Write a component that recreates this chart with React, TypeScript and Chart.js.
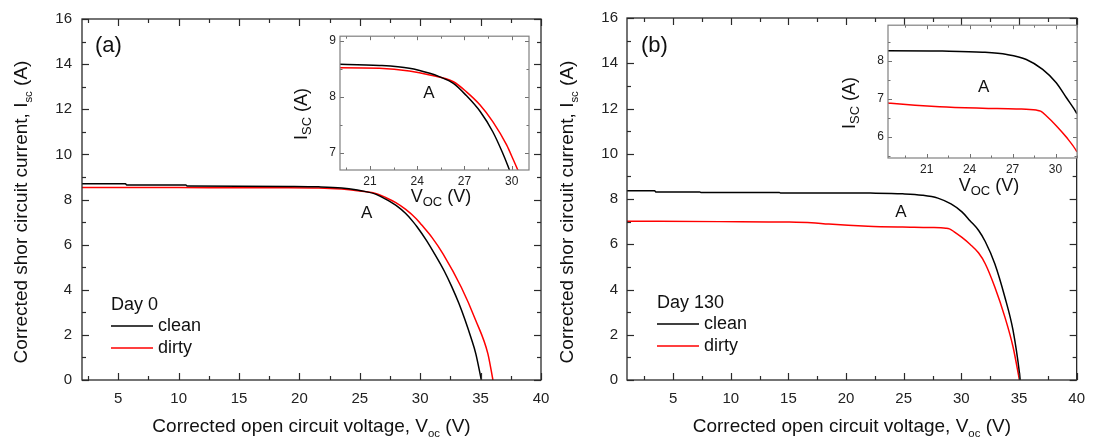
import React, { useEffect, useRef } from "react";
import { Chart, registerables } from "chart.js";

const FONT = 'Arial, "Liberation Sans", Helvetica, sans-serif';

// ---------- Panel (a): Day 0 ----------
const cleanDay0V = [2, 5.6, 5.7, 10.6, 10.7, 15, 19.1, 21.6, 23.5, 24.8, 25.4, 26.3, 27.1, 28.0, 28.8, 29.4, 29.75, 30.5, 31.2, 32.0, 32.6, 33.2, 33.7, 34.2, 34.6, 35.06];
const cleanDay0I = [8.7, 8.7, 8.64, 8.64, 8.6, 8.59, 8.58, 8.56, 8.51, 8.42, 8.36, 8.24, 8.03, 7.74, 7.38, 7.02, 6.78, 6.2, 5.58, 4.82, 4.15, 3.4, 2.68, 1.88, 1.17, 0];
const dirtyDay0V = [2, 10, 15, 19.1, 21.6, 23.5, 24.8, 26.3, 27.13, 27.98, 28.8, 29.67, 30.09, 31.0, 31.9, 33.4, 34.6, 35.6, 36.02];
const dirtyDay0I = [8.53, 8.53, 8.52, 8.52, 8.51, 8.46, 8.39, 8.27, 8.09, 7.86, 7.56, 7.15, 6.89, 6.3, 5.58, 4.11, 2.64, 1.17, 0];

// ---------- Panel (b): Day 130 ----------
const cleanDay130V = [1, 3.4, 3.5, 7.3, 7.4, 14.2, 14.3, 18.3, 22.1, 24.9, 26.6, 27.96, 29.1, 30.05, 30.75, 31.5, 32.07, 32.9, 33.77, 34.48, 35.04, 35.1];
const cleanDay130I = [8.37, 8.37, 8.31, 8.31, 8.29, 8.29, 8.27, 8.27, 8.26, 8.23, 8.17, 8.04, 7.78, 7.43, 7.04, 6.61, 6.12, 5.14, 3.67, 2.2, 0.3, 0];
const dirtyDay130V = [1, 9, 15, 17, 18.5, 21.9, 24.9, 27.26, 28.65, 28.96, 29.35, 30.05, 30.75, 31.5, 32.07, 32.9, 33.77, 34.48, 35.04];
const dirtyDay130I = [7.02, 7.0, 6.98, 6.95, 6.89, 6.8, 6.76, 6.74, 6.71, 6.68, 6.56, 6.3, 6.0, 5.61, 5.14, 4.11, 2.79, 1.47, 0];

// ---------- ticks & labels ----------
const mainXTicks = [5, 10, 15, 20, 25, 30, 35, 40];
const mainYTicks = [0, 2, 4, 6, 8, 10, 12, 14, 16];
const insetXTicks = [21, 24, 27, 30];
const insetYTicksA = [7, 8, 9];
const insetYTicksB = [6, 7, 8];
const seriesLabels = ["clean", "dirty"];
const seriesColors = ["#000000", "#ff0000"];
const dayLabels = ["Day 0", "Day 130"];
const panelTags = ["(a)", "(b)"];
const regionLabel = "A";

type Part = { t: string; sub?: boolean };

function drawRich(ctx: CanvasRenderingContext2D, parts: Part[], ax: number, ay: number, size: number, subScale: number, subDrop: number, rotate: boolean, color: string) {
  ctx.save();
  ctx.translate(ax, ay);
  if (rotate) ctx.rotate(-Math.PI / 2);
  ctx.fillStyle = color;
  ctx.textAlign = "left";
  ctx.textBaseline = "alphabetic";
  let total = 0;
  const widths = parts.map((p) => {
    ctx.font = `${p.sub ? size * subScale : size}px ${FONT}`;
    const w = ctx.measureText(p.t).width;
    total += w;
    return w;
  });
  let x = -total / 2;
  parts.forEach((p, i) => {
    ctx.font = `${p.sub ? size * subScale : size}px ${FONT}`;
    ctx.fillText(p.t, x, p.sub ? subDrop : 0);
    x += widths[i];
  });
  ctx.restore();
}

const decorPlugin = {
  id: "decor",
  beforeDraw(chart: any, _a: any, o: any) {
    if (!o || !o.fillArea) return;
    const { left, top, width, height } = chart.chartArea;
    const ctx = chart.ctx;
    ctx.save();
    ctx.fillStyle = "#ffffff";
    ctx.fillRect(left, top, width, height);
    ctx.restore();
  },
  afterDraw(chart: any, _a: any, o: any) {
    if (!o || !o.frameColor) return;
    const ctx: CanvasRenderingContext2D = chart.ctx;
    const ca = chart.chartArea;
    const xs = chart.scales.x;
    const ys = chart.scales.y;
    ctx.save();
    ctx.lineWidth = o.tickWidth;
    ctx.strokeStyle = o.tickColor;
    const seg = (x1: number, y1: number, x2: number, y2: number) => {
      ctx.beginPath();
      ctx.moveTo(x1, y1);
      ctx.lineTo(x2, y2);
      ctx.stroke();
    };
    const isMajor = (v: number, m: number[]) => m.some((q) => Math.abs(q - v) < 1e-6);
    const each = (min: number, max: number, step: number, fn: (v: number) => void) => {
      const s = Math.ceil(min / step - 1e-9);
      for (let k = s; k * step <= max + 1e-9; k++) fn(+(k * step).toFixed(6));
    };
    each(xs.min, xs.max, o.xMinorStep, (v) => {
      const len = isMajor(v, o.xMajor) ? o.majorLen : o.minorLen;
      const px = Math.round(xs.getPixelForValue(v)) + 0.5;
      seg(px, ca.bottom, px, ca.bottom - len);
      seg(px, ca.top, px, ca.top + len);
    });
    each(ys.min, ys.max, o.yMinorStep, (v) => {
      const len = isMajor(v, o.yMajor) ? o.majorLen : o.minorLen;
      const py = Math.round(ys.getPixelForValue(v)) + 0.5;
      seg(ca.left, py, ca.left + len, py);
      seg(ca.right, py, ca.right - len, py);
    });
    ctx.strokeStyle = o.frameColor;
    ctx.lineWidth = o.frameWidth;
    ctx.strokeRect(ca.left, ca.top, ca.right - ca.left, ca.bottom - ca.top);

    (o.titles || []).forEach((t: any) => {
      const ax = t.x === "center" ? (ca.left + ca.right) / 2 : t.x;
      const ay = t.y === "center" ? (ca.top + ca.bottom) / 2 : t.y;
      drawRich(ctx, t.parts, ax, ay, t.size, t.subScale, t.subDrop, !!t.rotate, "#111");
    });

    (o.labels || []).forEach((l: any) => {
      ctx.font = `${l.size}px ${FONT}`;
      ctx.fillStyle = "#111";
      ctx.textAlign = l.align || "center";
      ctx.textBaseline = "middle";
      const px = l.data ? xs.getPixelForValue(l.x) : l.x;
      const py = l.data ? ys.getPixelForValue(l.y) : l.y;
      ctx.fillText(l.text, px, py);
    });

    const lg = o.legend;
    if (lg) {
      ctx.font = `${lg.size}px ${FONT}`;
      ctx.fillStyle = "#111";
      ctx.textAlign = "left";
      ctx.textBaseline = "alphabetic";
      ctx.fillText(lg.title, lg.x, lg.titleY);
      chart.data.datasets.forEach((ds: any, i: number) => {
        const y = lg.rowsY[i];
        ctx.strokeStyle = ds.borderColor;
        ctx.lineWidth = 1.5;
        seg(lg.x, y, lg.x + lg.lineLen, y);
        ctx.fillStyle = "#111";
        ctx.textBaseline = "middle";
        ctx.fillText(ds.label, lg.x + lg.lineLen + lg.gap, y);
      });
    }
    ctx.restore();
  },
};

Chart.register(...registerables, decorPlugin);

type Spec = {
  cleanV: number[]; cleanI: number[]; dirtyV: number[]; dirtyI: number[];
  xMin: number; xMax: number; yMin: number; yMax: number;
  xTicks: number[]; yTicks: number[];
  padding: any; yWidth: number; xHeight: number;
  tickSize: number; xPad: number; yPad: number;
  decor: any;
};

function buildConfig(s: Spec): any {
  const mk = (V: number[], I: number[], i: number) => ({
    label: seriesLabels[i],
    data: V.map((v, k) => ({ x: v, y: I[k] })),
    borderColor: seriesColors[i],
    backgroundColor: seriesColors[i],
    borderWidth: 1.5,
    pointRadius: 0,
    fill: false,
    cubicInterpolationMode: "monotone",
  });
  return {
    type: "line",
    data: { datasets: [mk(s.cleanV, s.cleanI, 0), mk(s.dirtyV, s.dirtyI, 1)] },
    options: {
      responsive: false,
      animation: false,
      devicePixelRatio: 1,
      events: [],
      layout: { padding: s.padding },
      plugins: { legend: { display: false }, tooltip: { enabled: false }, decor: s.decor },
      scales: {
        x: {
          type: "linear",
          min: s.xMin,
          max: s.xMax,
          grid: { display: false, drawTicks: false },
          border: { display: false },
          afterBuildTicks: (sc: any) => { sc.ticks = s.xTicks.map((v) => ({ value: v })); },
          afterFit: (sc: any) => { sc.height = s.xHeight; },
          ticks: { font: { family: FONT, size: s.tickSize }, color: "#222", padding: s.xPad, maxRotation: 0, autoSkip: false, callback: (v: any) => String(v) },
        },
        y: {
          type: "linear",
          min: s.yMin,
          max: s.yMax,
          grid: { display: false, drawTicks: false },
          border: { display: false },
          afterBuildTicks: (sc: any) => { sc.ticks = s.yTicks.map((v) => ({ value: v })); },
          afterFit: (sc: any) => { sc.width = s.yWidth; },
          ticks: { font: { family: FONT, size: s.tickSize }, color: "#222", padding: s.yPad, autoSkip: false, callback: (v: any) => String(v) },
        },
      },
    },
  };
}

const mainYTitle: Part[] = [{ t: "Corrected shor circuit current, I" }, { t: "sc", sub: true }, { t: " (A)" }];
const mainXTitle: Part[] = [{ t: "Corrected open circuit voltage, V" }, { t: "oc", sub: true }, { t: " (V)" }];
const insetYTitle: Part[] = [{ t: "I" }, { t: "SC", sub: true }, { t: " (A)" }];
const insetXTitle: Part[] = [{ t: "V" }, { t: "OC", sub: true }, { t: " (V)" }];

function mainDecor(tag: string, day: string, yTitleX: number, aX: number, legendX: number, legendYs: number[]) {
  return {
    frameColor: "#2a2a2a", frameWidth: 1.3, tickColor: "#2a2a2a", tickWidth: 1.2,
    majorLen: 7, minorLen: 4, xMinorStep: 2.5, yMinorStep: 1,
    xMajor: mainXTicks, yMajor: mainYTicks, fillArea: false,
    titles: [
      { parts: mainYTitle, x: yTitleX, y: 212, size: 19, subScale: 0.6, subDrop: 5, rotate: true },
      { parts: mainXTitle, x: "center", y: 432, size: 19, subScale: 0.6, subDrop: 5 },
    ],
    labels: [
      { text: tag, x: legendX - 16, y: 46, size: 22, align: "left" },
      { text: regionLabel, x: aX, y: 7.4, size: 17, data: true },
    ],
    legend: { title: day, x: legendX, titleY: legendYs[0], rowsY: [legendYs[1], legendYs[2]], lineLen: 42, gap: 5, size: 18 },
  };
}

function insetDecor(yMajor: number[], aX: number, aY: number, xTitleY: number) {
  return {
    frameColor: "#808080", frameWidth: 1.2, tickColor: "#707070", tickWidth: 1,
    majorLen: 4, minorLen: 2.5, xMinorStep: 1.5, yMinorStep: 0.5,
    xMajor: insetXTicks, yMajor, fillArea: true,
    titles: [
      { parts: insetYTitle, x: 27, y: 89, size: 18, subScale: 0.72, subDrop: 4, rotate: true },
      { parts: insetXTitle, x: 161, y: xTitleY, size: 18, subScale: 0.72, subDrop: 4 },
    ],
    labels: [{ text: regionLabel, x: aX, y: aY, size: 17, data: true }],
  };
}

const specs: { spec: Spec; left: number; top: number; w: number; h: number }[] = [
  {
    left: 0, top: 0, w: 560, h: 438,
    spec: {
      cleanV: cleanDay0V, cleanI: cleanDay0I, dirtyV: dirtyDay0V, dirtyI: dirtyDay0I,
      xMin: 2, xMax: 40, yMin: 0, yMax: 16, xTicks: mainXTicks, yTicks: mainYTicks,
      padding: { top: 17, right: 19, left: 0, bottom: 0 }, yWidth: 82, xHeight: 58,
      tickSize: 15, xPad: 10, yPad: 10,
      decor: mainDecor(panelTags[0], dayLabels[0], 27, 25.57, 111, [310, 326, 348]),
    },
  },
  {
    left: 547, top: 0, w: 548, h: 438,
    spec: {
      cleanV: cleanDay130V, cleanI: cleanDay130I, dirtyV: dirtyDay130V, dirtyI: dirtyDay130I,
      xMin: 1, xMax: 40, yMin: 0, yMax: 16, xTicks: mainXTicks, yTicks: mainYTicks,
      padding: { top: 17, right: 9, left: 0, bottom: 0 }, yWidth: 80, xHeight: 58,
      tickSize: 15, xPad: 10, yPad: 9,
      decor: mainDecor(panelTags[1], dayLabels[1], 26, 24.75, 110, [308, 324, 346]),
    },
  },
  {
    left: 280, top: 25, w: 255, h: 190,
    spec: {
      cleanV: cleanDay0V, cleanI: cleanDay0I, dirtyV: dirtyDay0V, dirtyI: dirtyDay0I,
      xMin: 19.1, xMax: 31.1, yMin: 6.7, yMax: 9.08, xTicks: insetXTicks, yTicks: insetYTicksA,
      padding: { top: 10, right: 6, left: 0, bottom: 0 }, yWidth: 60, xHeight: 45,
      tickSize: 12, xPad: 4, yPad: 4,
      decor: insetDecor(insetYTicksA, 24.74, 8.07, 177),
    },
  },
  {
    left: 828, top: 14, w: 255, h: 190,
    spec: {
      cleanV: cleanDay130V, cleanI: cleanDay130I, dirtyV: dirtyDay130V, dirtyI: dirtyDay130I,
      xMin: 18.3, xMax: 31.5, yMin: 5.45, yMax: 8.94, xTicks: insetXTicks, yTicks: insetYTicksB,
      padding: { top: 10, right: 6, left: 0, bottom: 0 }, yWidth: 60, xHeight: 46,
      tickSize: 12, xPad: 4, yPad: 4,
      decor: insetDecor(insetYTicksB, 24.98, 7.3, 177),
    },
  },
];

function Panel({ spec, left, top, w, h }: { spec: Spec; left: number; top: number; w: number; h: number }) {
  const ref = useRef<HTMLCanvasElement | null>(null);
  useEffect(() => {
    if (!ref.current) return;
    const chart = new Chart(ref.current, buildConfig(spec));
    return () => chart.destroy();
  }, [spec]);
  return <canvas ref={ref} width={w} height={h} style={{ position: "absolute", left, top, width: w, height: h }} />;
}

export default function App() {
  return (
    <div style={{ position: "fixed", left: 0, top: 0, width: 1095, height: 438, background: "#ffffff", overflow: "hidden" }}>
      {specs.map((s, i) => (
        <Panel key={i} {...s} />
      ))}
    </div>
  );
}
